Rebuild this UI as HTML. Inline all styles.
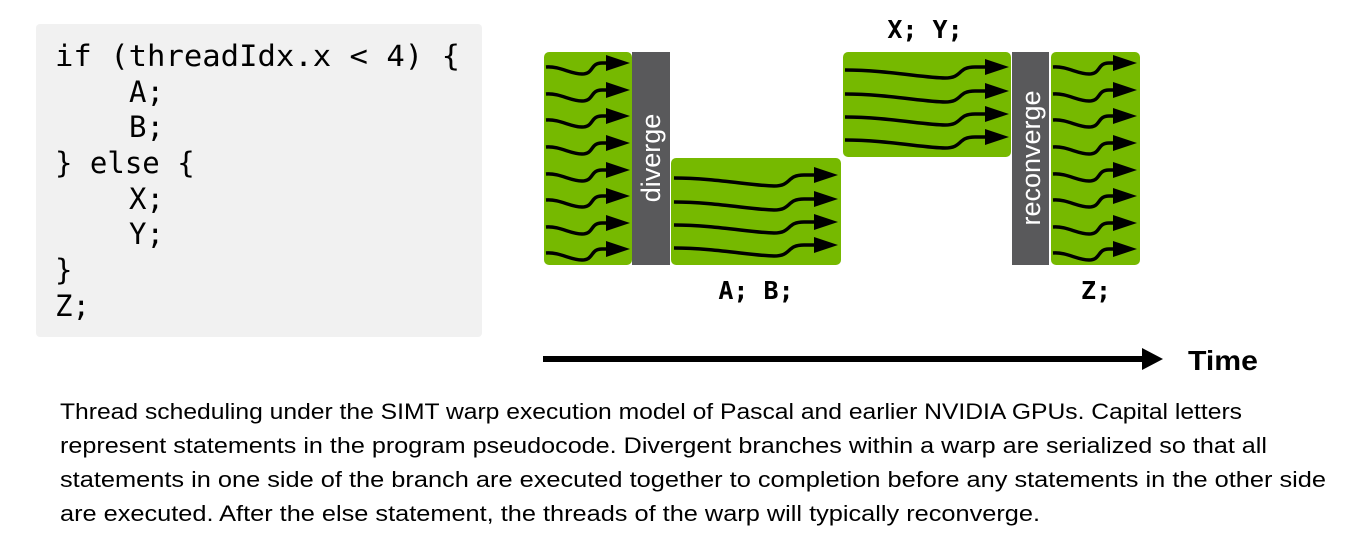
<!DOCTYPE html>
<html><head><meta charset="utf-8"><style>
html,body{margin:0;padding:0;background:#fff;}
svg{display:block;}
</style></head><body>
<svg width="1360" height="542" viewBox="0 0 1360 542" xmlns="http://www.w3.org/2000/svg">
<defs>
<g id="sa">
<path d="M0,0 C14,-1 24,7 36,7 C48,7 44,-4 56,-4 L66,-4" fill="none" stroke="#000" stroke-width="3.5"/>
<polygon points="60,-12 84,-4 60,4" fill="#000"/>
</g>
<g id="la">
<path d="M0,0 C40,0 80,8 100,8 C118,8 112,-3 130,-3 L146,-3" fill="none" stroke="#000" stroke-width="3.5"/>
<polygon points="140,-11 164,-3 140,5" fill="#000"/>
</g>
</defs>
<rect x="36" y="24" width="446" height="313" rx="4" fill="#f1f1f1"/>
<g font-family="'DejaVu Sans Mono','Liberation Mono',monospace" font-size="29" fill="#000">
<text x="55" y="66" textLength="405" lengthAdjust="spacingAndGlyphs">if (threadIdx.x &lt; 4) {</text>
<text x="129" y="102">A;</text>
<text x="129" y="137">B;</text>
<text x="55" y="173">} else {</text>
<text x="129" y="209">X;</text>
<text x="129" y="244">Y;</text>
<text x="55" y="280">}</text>
<text x="55" y="316">Z;</text>
</g>
<rect x="544" y="52" width="88" height="213" rx="5" fill="#76b900"/>
<rect x="632" y="52" width="38" height="213" fill="#59595b"/>
<rect x="671" y="158" width="170" height="107" rx="5" fill="#76b900"/>
<rect x="843" y="52" width="168" height="105" rx="5" fill="#76b900"/>
<rect x="1012" y="52" width="37" height="213" fill="#59595b"/>
<rect x="1051" y="52" width="89" height="213" rx="5" fill="#76b900"/>
<g font-family="'Liberation Sans',sans-serif" font-size="27" fill="#fff">
<text transform="translate(660,158) rotate(-90)" text-anchor="middle">diverge</text>
<text transform="translate(1040,158) rotate(-90)" text-anchor="middle">reconverge</text>
</g>
<use href="#sa" x="546" y="67"/><use href="#sa" x="546" y="94"/><use href="#sa" x="546" y="120"/><use href="#sa" x="546" y="147"/>
<use href="#sa" x="546" y="174"/><use href="#sa" x="546" y="200"/><use href="#sa" x="546" y="227"/><use href="#sa" x="546" y="253"/>
<use href="#sa" x="1053" y="67"/><use href="#sa" x="1053" y="94"/><use href="#sa" x="1053" y="120"/><use href="#sa" x="1053" y="147"/>
<use href="#sa" x="1053" y="174"/><use href="#sa" x="1053" y="200"/><use href="#sa" x="1053" y="227"/><use href="#sa" x="1053" y="253"/>
<use href="#la" x="674" y="178"/><use href="#la" x="674" y="202"/><use href="#la" x="674" y="225"/><use href="#la" x="674" y="248"/>
<use href="#la" x="845" y="70"/><use href="#la" x="845" y="94"/><use href="#la" x="845" y="117"/><use href="#la" x="845" y="140"/>
<g font-family="'DejaVu Sans Mono','Liberation Mono',monospace" font-size="25" font-weight="bold" fill="#000" text-anchor="middle">
<text x="925" y="38">X; Y;</text>
<text x="756" y="299">A; B;</text>
<text x="1096" y="299">Z;</text>
</g>
<rect x="543" y="356" width="604" height="6" fill="#000"/>
<polygon points="1142,348 1163,359 1142,370" fill="#000"/>
<text x="1188" y="370" font-family="'Liberation Sans',sans-serif" font-size="28" font-weight="bold" fill="#000" textLength="70" lengthAdjust="spacingAndGlyphs">Time</text>
<g font-family="'Liberation Sans',sans-serif" font-size="22" fill="#000">
<text x="60" y="419" textLength="1182" lengthAdjust="spacingAndGlyphs">Thread scheduling under the SIMT warp execution model of Pascal and earlier NVIDIA GPUs. Capital letters</text>
<text x="60" y="453" textLength="1207" lengthAdjust="spacingAndGlyphs">represent statements in the program pseudocode. Divergent branches within a warp are serialized so that all</text>
<text x="60" y="487" textLength="1266" lengthAdjust="spacingAndGlyphs">statements in one side of the branch are executed together to completion before any statements in the other side</text>
<text x="60" y="521" textLength="980" lengthAdjust="spacingAndGlyphs">are executed. After the else statement, the threads of the warp will typically reconverge.</text>
</g>
</svg>
</body></html>
